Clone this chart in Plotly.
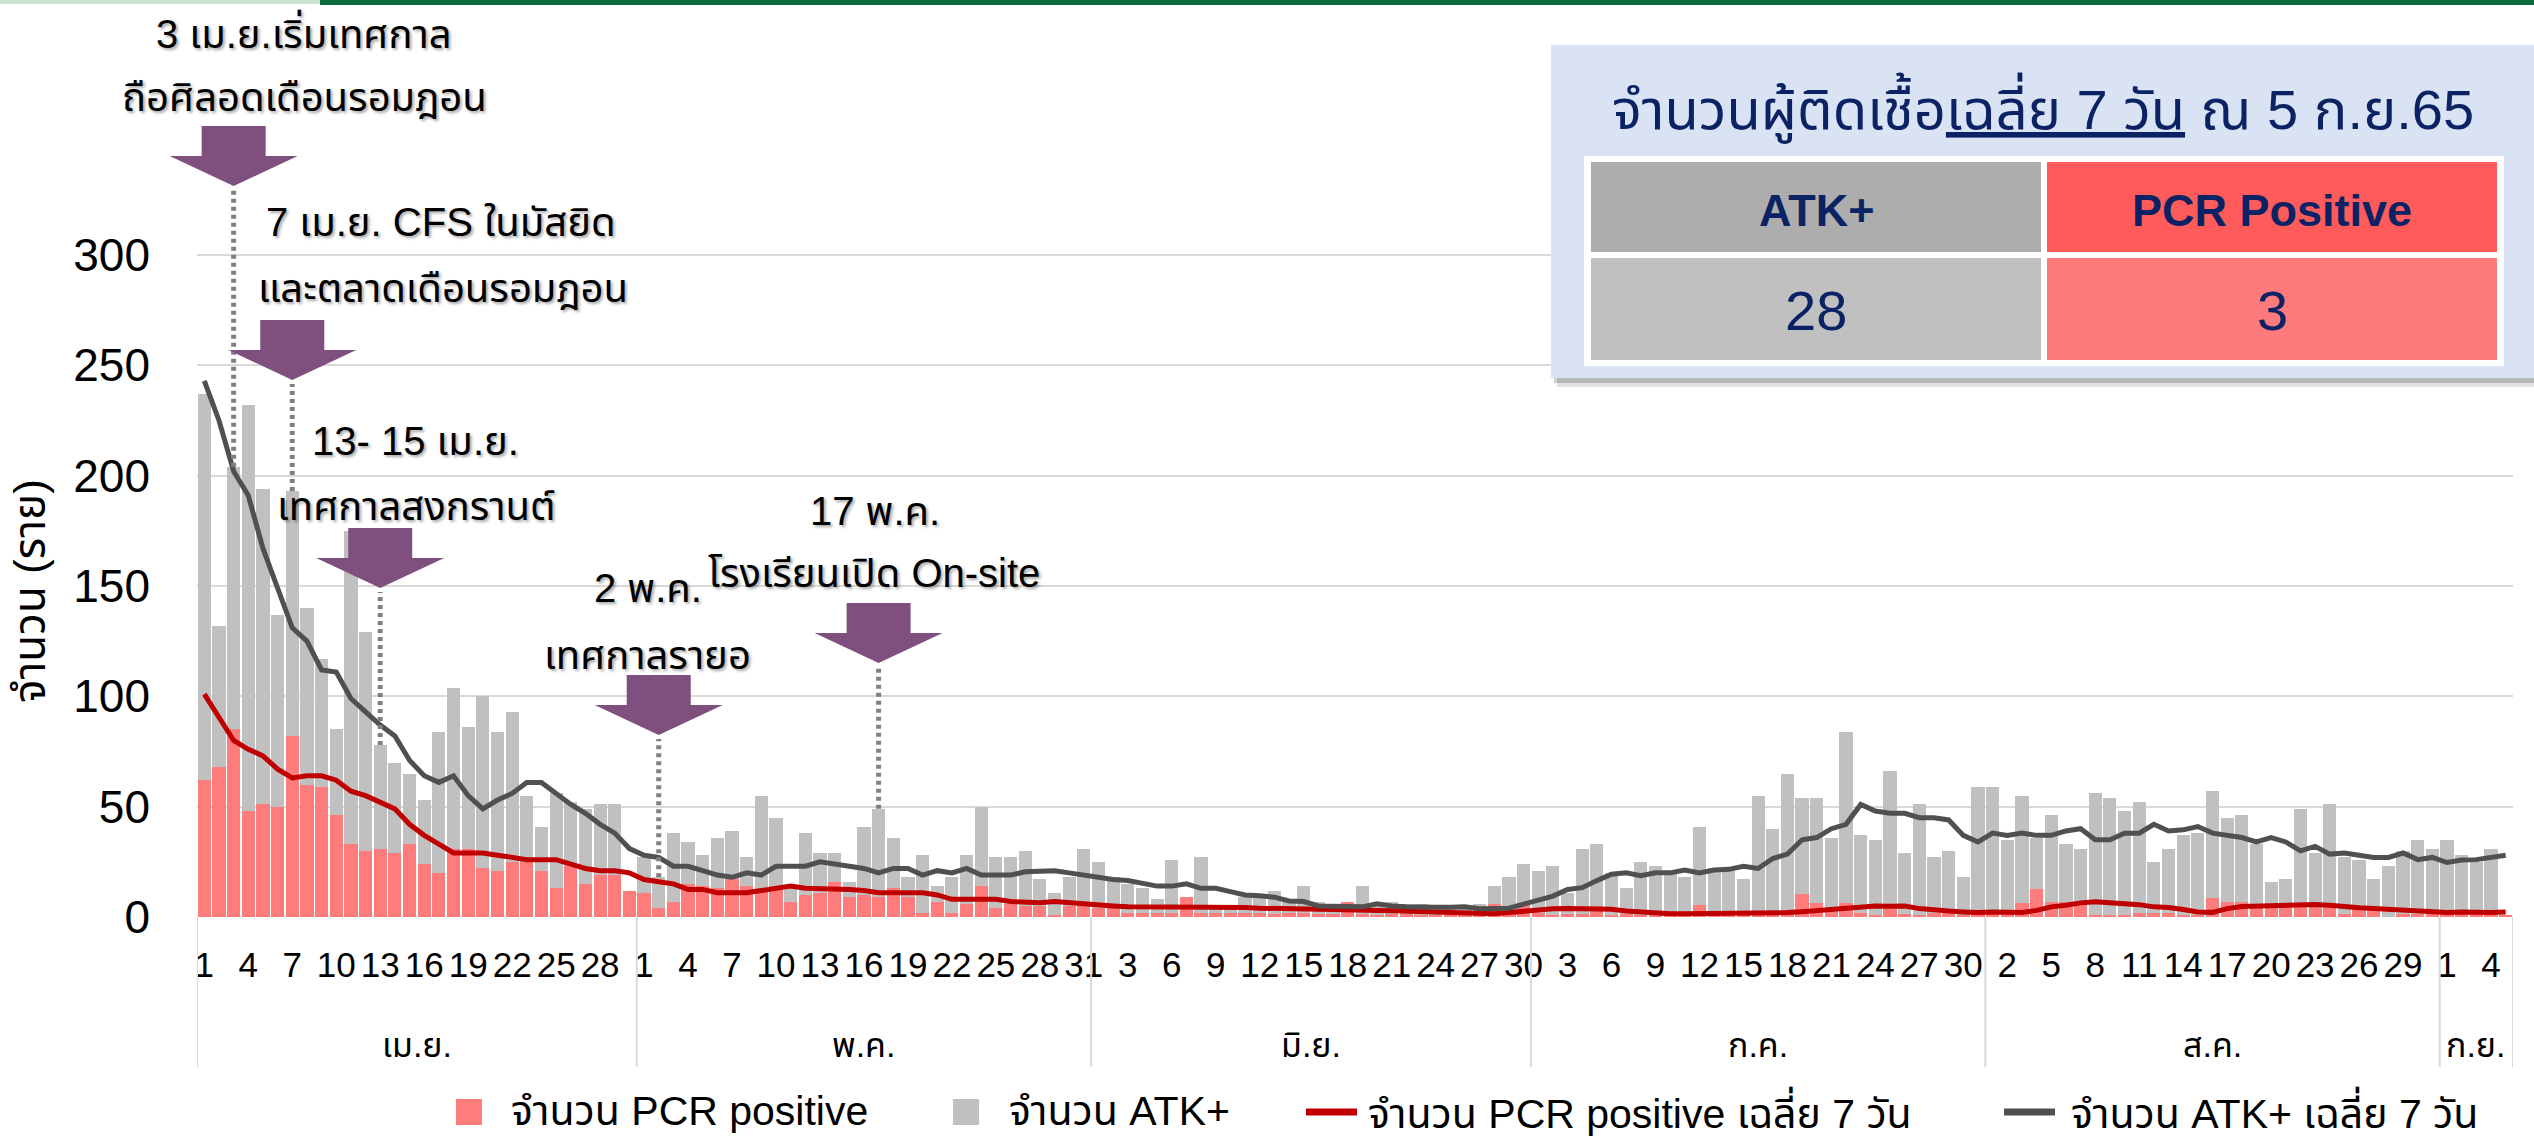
import plotly.graph_objects as go

# ---------------- data ----------------
month_names = ["เม.ย.", "พ.ค.", "มิ.ย.", "ก.ค.", "ส.ค.", "ก.ย."]
month_days = [30, 31, 30, 31, 31, 5]

atk = [237,132,204,232,194,137,193,140,117,85,175,129,78,70,65,53,84,104,86,100,84,93,55,41,56,52,49,51,51,8,
       27,18,38,34,28,36,39,27,55,45,13,38,29,29,16,41,49,36,18,28,14,18,28,50,27,27,30,17,11,18,31,
       25,18,15,13,8,26,8,27,5,5,9,9,12,8,14,7,5,7,14,5,7,6,6,5,5,4,6,14,18,24,
       21,23,11,31,33,20,13,25,23,20,18,41,22,22,17,55,40,65,54,54,36,84,37,35,66,29,51,27,30,18,59,
       59,35,55,36,46,33,31,56,54,48,52,25,31,37,38,57,45,46,33,16,17,49,29,51,27,26,17,23,30,35,31,
       35,28,25,31,0]
pcr = [62,68,85,48,51,50,82,60,59,46,33,30,31,29,33,24,20,31,31,22,21,25,25,21,13,23,15,19,19,12,
       11,4,7,15,14,13,17,14,12,14,7,10,11,16,9,10,9,13,9,2,7,2,6,14,4,6,5,5,1,5,5,
       4,4,2,2,2,2,9,2,2,2,2,2,1.5,2,2,1.5,1.5,7,1.5,1,1.5,1.5,1,1,1,1.5,1,6,2,6,
       2,0.5,1.5,1.5,5,0.5,1.5,0.5,1.5,1.5,1.5,5.5,1.5,1.5,1.5,1.5,1.5,1.5,10.5,6.5,4,6.5,2,0.5,4.5,1.5,1,2,2,0.5,1.5,
       2,1.5,6.5,12.5,7,7,6,0.5,0.5,0.5,2,2,2,0.5,1,8.5,7,7,5,4.5,4.5,5,5.5,6.5,1.5,3,3,0,1.5,1.5,1.5,
       3,3,2.5,2.5,1]
atk_avg = [243,225,202,191,167,149,131,125,112,111,99,93,87,82,71,64,61,64,55,49,53,56,61,61,56,51,47,42,38,31,
           28,27,23,23,21,19,18,20,19,23,23,23,25,24,23,22,20,22,22,19,21,20,22,19,19,19,20.5,20.5,21,20,19,
           17.5,17,16.5,15,14,14,15,13,13,11.5,10,9.6,9,7.3,7,5,5,5,4.6,6,5,4.6,4.3,4.4,4.4,4.6,3.7,3.7,4,5.8,
           7.6,9.5,12.5,13.3,16.5,19.4,20,18.7,20,20,21.3,20,21.3,21.6,23,22,26.5,28.5,35,36,40,42,51,48,47,47,45,45,44,37,34,
           38,37,38,37,37,39,40,35,35,38,38,42,39,39.5,41,38,37,36,34,36,34,30,32,28.5,29,28,27,27,29,26,27,
           24.7,25.8,26,27,28]
pcr_avg = [101,90,80,76,73,67,63,64,64,62,57,55,52,49,42,37,33,29,29,29,28,27,26,26,26,24,22,21,21,20,
           17,16,15,12.5,12.5,11,11,11,12,13,14,13,13,13,12.5,12,11,11,11,11,10,8,8,8,8,7,6.5,6.5,7,6.5,6,
           5,5,4.6,4.6,4.6,4.6,4.6,4.6,4.3,4.3,4.3,4,4,4,3.8,3.5,3.4,3.4,3,3,2.8,2.6,2.3,2.2,2.2,2,1.5,1.5,2,2.6,
           3.4,3.7,3.8,3.8,4,3.5,2.7,2.3,1.5,1.5,1.5,1.5,1.8,2,1.8,1.8,2,2,2.4,3,3.5,3.8,4.9,5,4.9,5,3.8,3,2.7,2.3,2,
           2.3,2,2,3,4.6,5.3,6.4,6.9,6.6,6.4,5.6,4.6,4.3,3.4,2.3,2.1,3.8,4.8,5,5,5.3,5.6,5.7,5.3,5,4.2,3.8,3.5,3,2.7,2.6,
           2,2.3,2,2,2.3]

y_ticks = [0, 50, 100, 150, 200, 250, 300]
table_title = "จำนวนผู้ติดเชื้อ<u>เฉลี่ย 7 วัน</u> ณ 5 ก.ย.65"
table_headers = ["ATK+", "PCR Positive"]
table_values = ["28", "3"]
legend_names = ["จำนวน PCR positive", "จำนวน ATK+", "จำนวน PCR positive เฉลี่ย 7 วัน", "จำนวน ATK+ เฉลี่ย 7 วัน"]

# events: (day index, tip pixel y, [(text, cx, cy), ...])
events = [
    (2, 186, [("3 เม.ย.เริ่มเทศกาล", 304, 33), ("ถือศิลอดเดือนรอมฎอน", 304, 97)]),
    (6, 380, [("7 เม.ย. CFS ในมัสยิด", 441, 222), ("และตลาดเดือนรอมฎอน", 443, 288)]),
    (12, 588, [("13- 15 เม.ย.", 415, 441), ("เทศกาลสงกรานต์", 416, 506)]),
    (31, 735, [("2 พ.ค.", 648, 588), ("เทศกาลรายอ", 647, 655)]),
    (46, 663, [("17 พ.ค.", 875, 511), ("โรงเรียนเปิด On-site", 874, 573)]),
]

# ---------------- derived ----------------
day_of_month = [d for n in month_days for d in range(1, n + 1)]
N = len(day_of_month)
xs = list(range(N))
month_start = [sum(month_days[:i]) for i in range(len(month_days))]

W, H = 2534, 1139
L, R, T, B = 197, 21, 0, 222
PW, PH = W - L - R, H - T - B
PX_PER_UNIT = (917 - 255) / 300.0
Y_MAX = PH / PX_PER_UNIT
FONT = "Liberation Sans, Noto Sans Thai, Noto Sans, sans-serif"
NAVY = "#0b2265"

def fx(p):
    return (p - L) / PW

def fy(p):
    return (T + PH - p) / PH

def day_px(d):
    return L + (d + 0.5) * PW / N

def val_of_px(p):
    return (T + PH - p) / PX_PER_UNIT

fig = go.Figure()
fig.add_trace(go.Bar(x=xs, y=atk, name=legend_names[1], marker=dict(color="#c0c0c0", line_width=0), width=0.9))
fig.add_trace(go.Bar(x=xs, y=pcr, name=legend_names[0], marker=dict(color="#ff7c7c", line_width=0), width=0.9))
fig.add_trace(go.Scatter(x=xs, y=pcr_avg, name=legend_names[2], mode="lines", line=dict(color="#c00000", width=5)))
fig.add_trace(go.Scatter(x=xs, y=atk_avg, name=legend_names[3], mode="lines", line=dict(color="#505050", width=5)))

shapes = []
annotations = []

def text_at(text, px, py, size, color="black", xanchor="center", angle=0, shadow=None):
    f = dict(size=size, color=color, family=FONT)
    if shadow:
        f["shadow"] = shadow
    annotations.append(dict(x=fx(px), y=fy(py), xref="paper", yref="paper", text=text, showarrow=False,
                            xanchor=xanchor, yanchor="middle", textangle=angle, font=f))

# month separators below axis
for b in month_start + [N]:
    shapes.append(dict(type="line", xref="x", yref="paper", x0=b - 0.5, x1=b - 0.5,
                       y0=0, y1=fy(1067), line=dict(color="#d9d9d9", width=2), layer="above"))
for i, name in enumerate(month_names):
    c = month_start[i] + month_days[i] / 2 - 0.5
    annotations.append(dict(x=c, xref="x", y=fy(1045), yref="paper", text=name, showarrow=False,
                            xanchor="center", yanchor="middle",
                            font=dict(size=34, color="black", family=FONT)))

# event arrows, dotted lines and texts
for d, tip, lines in events:
    cx = day_px(d)
    shapes.append(dict(type="line", xref="x", yref="y", x0=d, x1=d, y0=atk[d], y1=val_of_px(tip + 4),
                       line=dict(color="#808080", width=5, dash="4px,4px"), layer="above"))
    pts = [(cx - 32, tip - 60), (cx + 32, tip - 60), (cx + 32, tip - 30), (cx + 64, tip - 30),
           (cx, tip), (cx - 64, tip - 30), (cx - 32, tip - 30)]
    path = "M" + " L".join(f"{fx(px):.5f},{fy(py):.5f}" for px, py in pts) + " Z"
    shapes.append(dict(type="path", xref="paper", yref="paper", path=path,
                       fillcolor="#7f4f7e", line=dict(width=0), layer="above"))
    for text, tx, ty in lines:
        text_at(text, tx, ty, 40, shadow="2px 2px 3px rgba(0,0,0,0.35)")

# top decoration strip
shapes.append(dict(type="rect", xref="paper", yref="paper", x0=fx(0), x1=fx(320), y0=fy(0), y1=fy(4),
                   fillcolor="#c8e3d2", line=dict(width=0), layer="above"))
shapes.append(dict(type="rect", xref="paper", yref="paper", x0=fx(320), x1=fx(W), y0=fy(0), y1=fy(5),
                   fillcolor="#0b6b3a", line=dict(width=0), layer="above"))

# summary table box
def rect(x0, y0, x1, y1, color):
    shapes.append(dict(type="rect", xref="paper", yref="paper", x0=fx(x0), x1=fx(x1), y0=fy(y0), y1=fy(y1),
                       fillcolor=color, line=dict(width=0), layer="above"))

rect(1557, 53, W, 387, "rgba(0,0,0,0.12)")
rect(1554, 50, W, 383, "rgba(0,0,0,0.18)")
rect(1551, 45, W, 378, "#dae3f3")
rect(1584, 156, 2504, 366, "#ffffff")
rect(1591, 162, 2041, 252, "#adadad")
rect(2047, 162, 2497, 252, "#ff5b5b")
rect(1591, 258, 2041, 360, "#c0c0c0")
rect(2047, 258, 2497, 360, "#ff7b7b")

text_at(table_title, 2043, 108, 56, NAVY)
for cx, h, v in zip([1816, 2272], table_headers, table_values):
    text_at(f"<b>{h}</b>", cx, 210, 45, NAVY)
    text_at(v, cx, 310, 56, NAVY)

# y axis title
text_at("จำนวน (ราย)", 29, 591, 44, angle=-90)

# manual legend
leg_y = 1111
leg_items = [("box", "#ff7c7c", 456, 509, legend_names[0]),
             ("box", "#c0c0c0", 953, 1007, legend_names[1]),
             ("line", "#c00000", 1306, 1366, legend_names[2]),
             ("line", "#505050", 2004, 2069, legend_names[3])]
for kind, color, sx, tx, text in leg_items:
    if kind == "box":
        rect(sx, leg_y - 12, sx + 26, leg_y + 14, color)
    else:
        shapes.append(dict(type="line", xref="paper", yref="paper", x0=fx(sx), x1=fx(sx + 51),
                           y0=fy(leg_y + 1), y1=fy(leg_y + 1), line=dict(color=color, width=7), layer="above"))
    text_at(text, tx, leg_y, 41, xanchor="left")

fig.update_layout(
    width=W, height=H,
    margin=dict(l=L, r=R, t=T, b=B, pad=0),
    paper_bgcolor="white", plot_bgcolor="white",
    barmode="overlay", bargap=0,
    showlegend=False,
    font=dict(family=FONT, color="black"),
    shapes=shapes, annotations=annotations,
    xaxis=dict(range=[-0.5, N - 0.5], tickmode="array", tickvals=xs[::3],
               ticktext=[str(day_of_month[i]) for i in xs[::3]], tickangle=0,
               tickfont=dict(size=35, color="black", family=FONT), showgrid=False, zeroline=False,
               showline=False, ticks="", ticklabelstandoff=24, fixedrange=True),
    yaxis=dict(range=[0, Y_MAX], tickmode="array", tickvals=y_ticks, showgrid=True, gridcolor="#d9d9d9",
               gridwidth=2, zeroline=False, showline=False, ticks="",
               tickfont=dict(size=46, color="black", family=FONT), ticklabelstandoff=46, fixedrange=True),
)

fig.write_html("out.html", config={"displayModeBar": False},
               post_script="document.body.style.margin='0';document.body.style.overflow='hidden';")
